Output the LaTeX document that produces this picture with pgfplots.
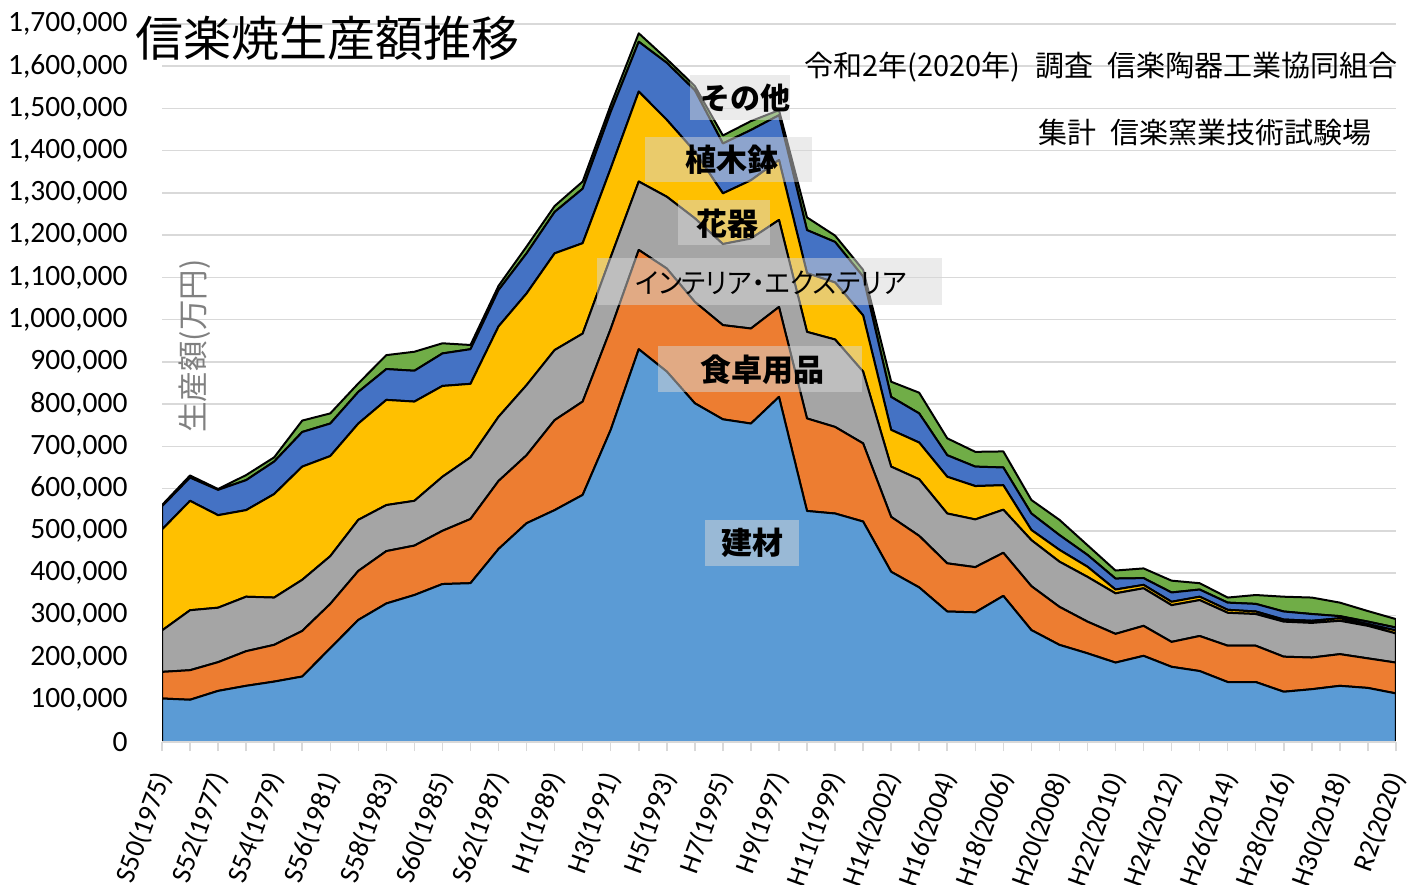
\documentclass[border=0pt]{standalone}
\usepackage{pgfplots}
\pgfplotsset{compat=1.18}
\usepackage{pgfplotstable}
\usepackage{fontspec}
\setmainfont{Carlito}
\newfontfamily\jp{Noto Sans CJK JP}
\newfontfamily\jpp{Noto Sans CJK JP}[RawFeature=+palt]
\definecolor{ckz}{RGB}{91,155,213}
\definecolor{csk}{RGB}{237,125,49}
\definecolor{cin}{RGB}{165,165,165}
\definecolor{cka}{RGB}{255,192,0}
\definecolor{cue}{RGB}{68,114,196}
\definecolor{cso}{RGB}{112,173,71}
\definecolor{cgrid}{RGB}{217,217,217}
\definecolor{cbox}{RGB}{215,215,215}
\definecolor{clab}{RGB}{128,128,128}
\pgfplotstableread{
x kz sk in ka ue so
0 103000 63000 98000 239000 55000 3000
1 100000 70000 142000 259000 55000 5000
2 121000 68000 129000 219000 60000 2000
3 133000 82000 129000 205000 71000 12000
4 143000 87000 112000 245000 77000 10000
5 155000 108000 121000 268000 82000 27000
6 222000 105000 113000 237000 77000 24000
7 289000 116000 121000 228000 75000 20000
8 328000 124000 109000 249000 73000 33000
9 348000 117000 106000 235000 73000 45000
10 374000 126000 128000 215000 77000 24000
11 376000 152000 146000 174000 82000 10000
12 457000 161000 152000 214000 86000 10000
13 518000 161000 166000 217000 95000 16000
14 549000 213000 166000 229000 98000 14000
15 585000 221000 161000 214000 129000 17000
16 739000 239000 170000 210000 134000 16000
17 930000 235000 162000 213000 118000 20000
18 877000 244000 170000 182000 135000 9000
19 802000 240000 198000 158000 145000 10000
20 764000 223000 192000 120000 118000 19000
21 754000 225000 213000 138000 119000 21000
22 817000 213000 206000 142000 106000 12000
23 547000 219000 205000 139000 102000 30000
24 541000 205000 207000 135000 96000 15000
25 522000 185000 170000 133000 92000 16000
26 403000 130000 119000 87000 78000 36000
27 366000 122000 134000 87000 69000 49000
28 309000 114000 118000 87000 51000 40000
29 307000 107000 113000 79000 46000 35000
30 346000 102000 102000 58000 42000 38000
31 265000 104000 109000 24000 39000 32000
32 230000 90000 107000 28000 35000 36000
33 210000 75000 106000 24000 28000 23000
34 188000 68000 96000 9000 26000 19000
35 204000 71000 89000 8000 16000 23000
36 178000 59000 87000 8000 22000 28000
37 168000 83000 85000 8000 17000 15000
38 142000 86000 78000 7000 17000 12000
39 142000 86000 75000 6000 18000 21000
40 119000 83000 83000 5000 19000 35000
41 125000 75000 82000 5000 16000 39000
42 133000 75000 79000 6000 5000 32000
43 128000 70000 77000 4000 6000 25000
44 115000 73000 69000 7000 7000 20000
}\data
\begin{document}
\begin{tikzpicture}
\useasboundingbox (0,0) rectangle (1407pt,884pt);
\begin{axis}[
  at={(162pt,142pt)}, anchor=south west,
  scale only axis, width=1234pt, height=718pt,
  xmin=0, xmax=44, ymin=0, ymax=1700000,
  stack plots=y,
  axis x line*=bottom, axis y line*=left,
  y axis line style={draw=none},
  x axis line style={draw=cgrid, line width=1.5pt, -},
  xtick={0,2,...,44},
  minor xtick={1,3,...,43},
  tick align=outside,
  major tick length=9pt, minor tick length=9pt,
  xtick style={draw=cgrid, line width=1.5pt},
  minor tick style={draw=cgrid, line width=1.5pt},
  ytick={0,100000,...,1700000},
  ytick style={draw=none},
  ymajorgrids, grid style={draw=cgrid, line width=1.5pt},
  scaled y ticks=false,
  /pgf/number format/.cd, fixed, 1000 sep={,}, assume math mode=true,
  /pgfplots/.cd,
  yticklabel style={font=\fontsize{29.5}{29.5}\selectfont, anchor=east, xshift=-22pt},
  xticklabels={S50(1975),S52(1977),S54(1979),S56(1981),S58(1983),S60(1985),S62(1987),H1(1989),H3(1991),H5(1993),H7(1995),H9(1997),H11(1999),H14(2002),H16(2004),H18(2006),H20(2008),H22(2010),H24(2012),H26(2014),H28(2016),H30(2018),R2(2020)},
  xticklabel style={font=\fontsize{28}{28}\selectfont, anchor=east, xshift=3pt, yshift=-19pt, rotate=70},
  every axis plot/.append style={draw=black, line width=2pt, line join=round},
]
\addplot[fill=ckz] table[x=x,y=kz]{\data} \closedcycle;
\addplot[fill=csk] table[x=x,y=sk]{\data} \closedcycle;
\addplot[fill=cin] table[x=x,y=in]{\data} \closedcycle;
\addplot[fill=cka] table[x=x,y=ka]{\data} \closedcycle;
\addplot[fill=cue] table[x=x,y=ue]{\data} \closedcycle;
\addplot[fill=cso] table[x=x,y=so]{\data} \closedcycle;
\end{axis}
\draw[cgrid, line width=2pt] (162pt,142pt) -- (1396pt,142pt);
% title and notes
\node[anchor=west, inner sep=0] at (135pt,846pt) {\jp\fontsize{48}{48}\selectfont 信楽焼生産額推移};
\node[anchor=west, inner sep=0] at (804pt,817pt) {\jp\fontsize{29}{29}\selectfont 令和2年(2020年)\hspace{15pt}調査\hspace{14pt}信楽陶器工業協同組合};
\node[anchor=west, inner sep=0] at (1038pt,751pt) {\jp\fontsize{29}{29}\selectfont 集計\hspace{14pt}信楽窯業技術試験場};
\node[rotate=90, inner sep=0, text=clab] at (195pt,538pt) {\jp\fontsize{30.5}{30.5}\selectfont 生産額(万円)};
% series labels
\fill[cbox, fill opacity=0.5] (690pt,764pt) rectangle (790pt,809pt);
\node[inner sep=0] at (745pt,786pt) {\jp\bfseries\fontsize{30}{30}\selectfont その他};
\fill[cbox, fill opacity=0.5] (645pt,702pt) rectangle (812pt,747pt);
\node[inner sep=0] at (732pt,724pt) {\jp\bfseries\fontsize{31}{31}\selectfont 植木鉢};
\fill[cbox, fill opacity=0.5] (678pt,639pt) rectangle (770pt,684pt);
\node[inner sep=0] at (727pt,660pt) {\jp\bfseries\fontsize{31}{31}\selectfont 花器};
\fill[cbox, fill opacity=0.5] (597pt,579pt) rectangle (942pt,626pt);
\node[inner sep=0] at (771pt,601pt) {\scalebox{0.94}[1]{\jpp\fontsize{28}{28}\selectfont インテリア・エクステリア}};
\fill[cbox, fill opacity=0.5] (658pt,492pt) rectangle (862pt,538pt);
\node[inner sep=0] at (762pt,514pt) {\jp\bfseries\fontsize{31}{31}\selectfont 食卓用品};
\fill[cbox, fill opacity=0.5] (705pt,318pt) rectangle (799pt,364pt);
\node[inner sep=0] at (752pt,341pt) {\jp\bfseries\fontsize{31}{31}\selectfont 建材};
\end{tikzpicture}
\end{document}
